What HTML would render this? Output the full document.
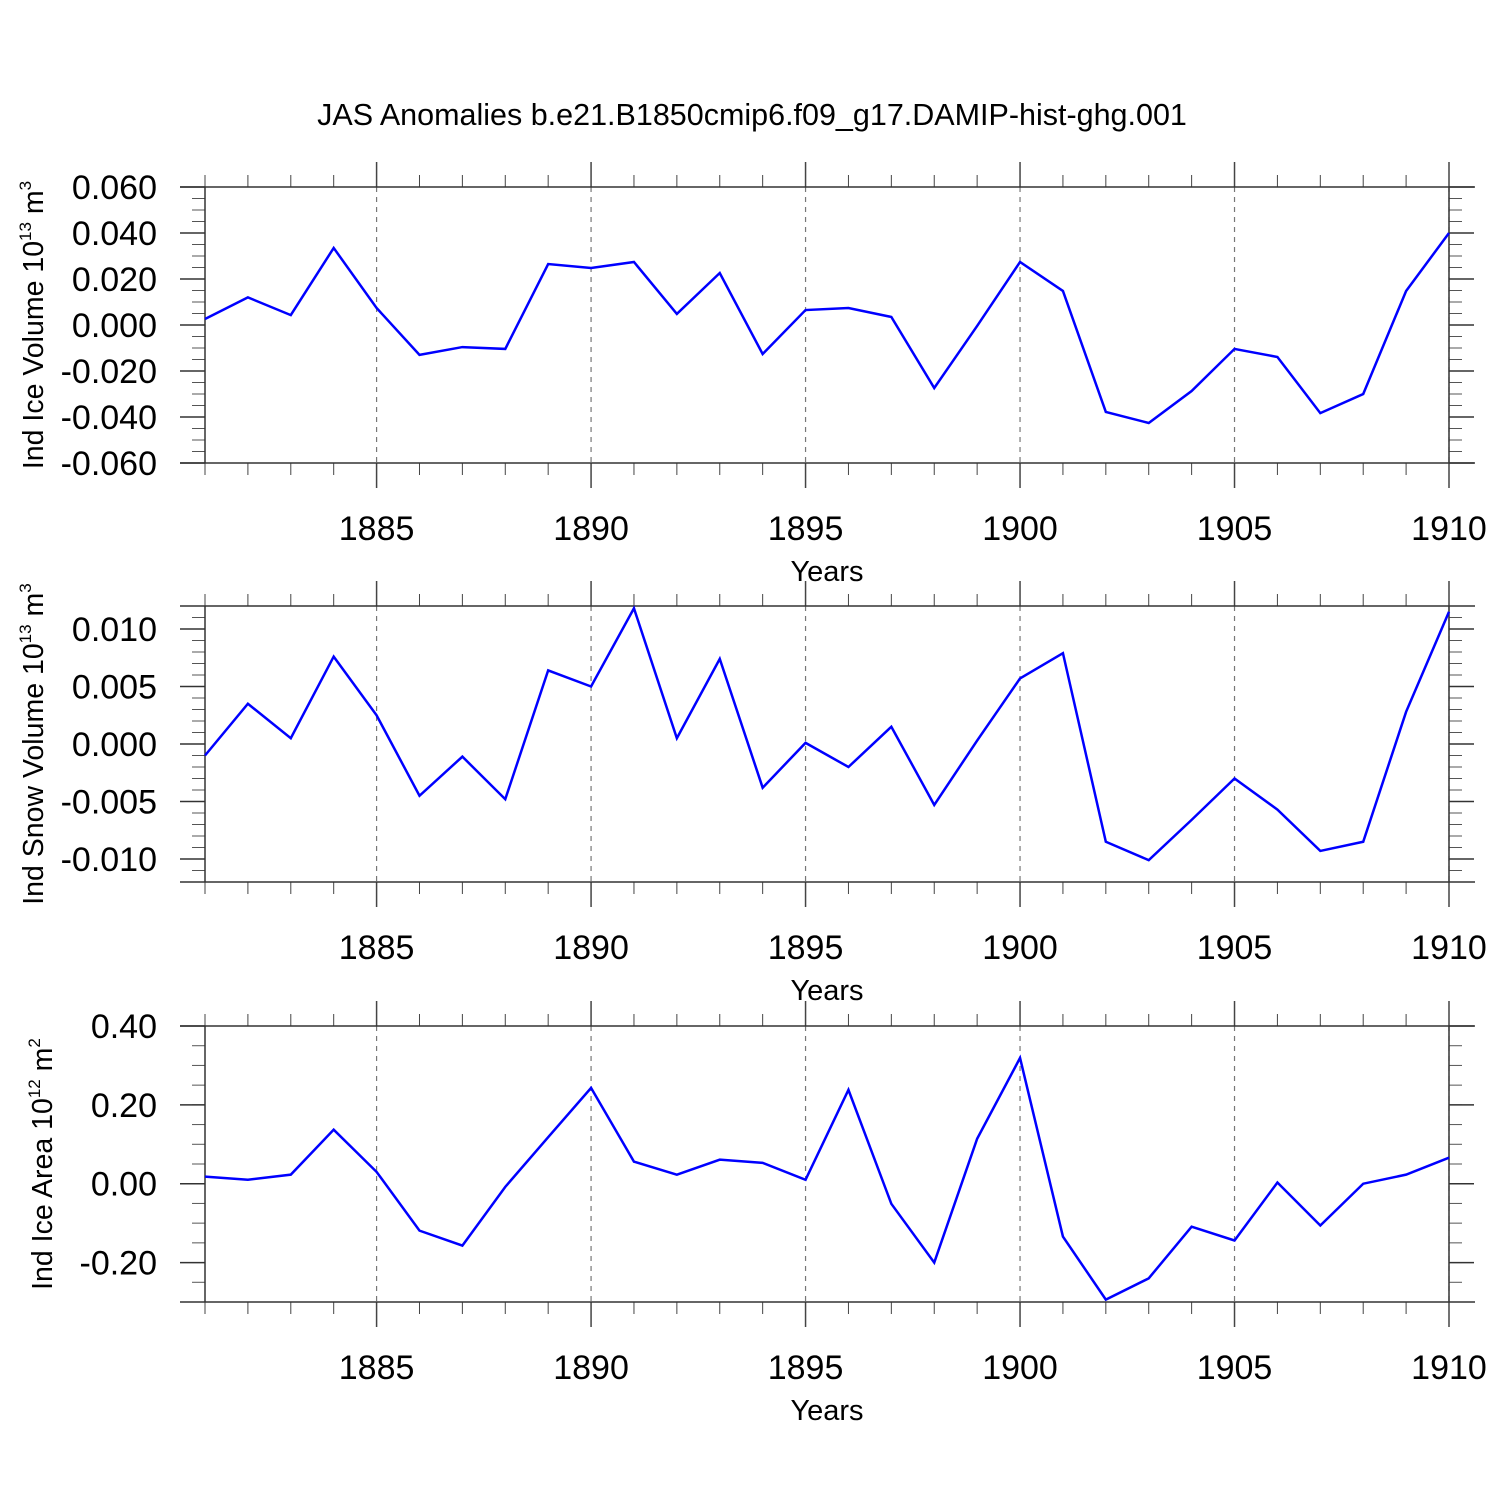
<!DOCTYPE html>
<html><head><meta charset="utf-8"><style>
html,body{margin:0;padding:0;background:#fff;}
svg{display:block;font-family:"Liberation Sans",Arial,sans-serif;}
</style></head><body>
<svg id="chart" width="1500" height="1500" xmlns="http://www.w3.org/2000/svg">
<rect width="1500" height="1500" fill="#fff"/>
<text x="752" y="125" font-size="30.5" text-anchor="middle">JAS Anomalies b.e21.B1850cmip6.f09_g17.DAMIP-hist-ghg.001</text>
</svg>
<script>
const years = [1881,1882,1883,1884,1885,1886,1887,1888,1889,1890,1891,1892,1893,1894,1895,1896,1897,1898,1899,1900,1901,1902,1903,1904,1905,1906,1907,1908,1909,1910];
const iceVolume = [0.0026,0.012,0.0043,0.0335,0.0074,-0.013,-0.0096,-0.0104,0.0265,0.0248,0.0274,0.0048,0.0226,-0.0126,0.0065,0.0074,0.0035,-0.0274,-0.0004,0.0274,0.0148,-0.0378,-0.0426,-0.0287,-0.0104,-0.0139,-0.0383,-0.030,0.0148,0.040];
const snowVolume = [-0.001,0.0035,0.0005,0.0076,0.0025,-0.0045,-0.0011,-0.0048,0.0064,0.005,0.0118,0.0005,0.0074,-0.0038,0.0001,-0.002,0.0015,-0.0053,0.0003,0.0057,0.0079,-0.0085,-0.0101,-0.0066,-0.003,-0.0057,-0.0093,-0.0085,0.0028,0.0115];
const iceArea = [0.018,0.010,0.023,0.137,0.030,-0.119,-0.157,-0.008,0.118,0.243,0.056,0.023,0.061,0.053,0.010,0.238,-0.051,-0.20,0.114,0.319,-0.134,-0.294,-0.240,-0.109,-0.144,0.003,-0.106,0.0,0.023,0.066];
const xTickLabels = [1885,1890,1895,1900,1905,1910];
const iceVolTicks = [-0.06,-0.04,-0.02,0,0.02,0.04,0.06];
const snowTicks = [-0.010,-0.005,0,0.005,0.010];
const areaTicks = [-0.20,0,0.20,0.40];

const NS="http://www.w3.org/2000/svg";
const svg=document.getElementById('chart');
function mk(tag,attrs,parent){const e=document.createElementNS(NS,tag);for(const k in attrs)e.setAttribute(k,attrs[k]);(parent||svg).appendChild(e);return e;}
const X0=205,X1=1449;
function xs(y){return X0+(y-1881)*(X1-X0)/29;}

function panel(key,top,ymin,ymax,data,ticks,dec,minorStep,titleMain,sup,unit,titleX){
  const bot=top+276;
  const g=mk('g',{});
  
  
  const ys=v=>bot-(v-ymin)*(bot-top)/(ymax-ymin);
  xTickLabels.forEach(yr=>{
    const l=mk('line',{x1:xs(yr),x2:xs(yr),y1:top,y2:bot,stroke:'#777','stroke-width':1.2,'stroke-dasharray':'5,5'},g);
    
    
  });
  years.forEach(yr=>{
    const major=yr%5===0;const len=major?25:12;
    mk('line',{x1:xs(yr),x2:xs(yr),y1:top,y2:top-len,stroke:'#444','stroke-width':major?1.5:1},g);
    mk('line',{x1:xs(yr),x2:xs(yr),y1:bot,y2:bot+len,stroke:'#444','stroke-width':major?1.5:1},g);
  });
  const n=Math.round((ymax-ymin)/minorStep);
  for(let i=0;i<=n;i++){const v=ymin+i*minorStep;const y=ys(v);
    mk('line',{x1:X0-13,x2:X0,y1:y,y2:y,stroke:'#555','stroke-width':1},g);
    mk('line',{x1:X1,x2:X1+13,y1:y,y2:y,stroke:'#555','stroke-width':1},g);}
  ticks.forEach(v=>{const y=ys(v);
    mk('line',{x1:X0-25,x2:X0,y1:y,y2:y,stroke:'#333','stroke-width':1.5},g);
    mk('line',{x1:X1,x2:X1+25,y1:y,y2:y,stroke:'#333','stroke-width':1.5},g);
    const t=mk('text',{x:157,y:y+12,'font-size':34,'text-anchor':'end'},g);
    
    
    t.textContent=v.toFixed(dec);
  });
  mk('line',{x1:180,x2:1475,y1:top,y2:top,stroke:'#333','stroke-width':1.5},g);
  mk('line',{x1:180,x2:1475,y1:bot,y2:bot,stroke:'#333','stroke-width':1.5},g);
  mk('line',{x1:X0,x2:X0,y1:top,y2:bot,stroke:'#333','stroke-width':1.5},g);
  mk('line',{x1:X1,x2:X1,y1:top,y2:bot,stroke:'#333','stroke-width':1.5},g);
  xTickLabels.forEach(yr=>{
    const t=mk('text',{x:xs(yr),y:bot+77,'font-size':34,'text-anchor':'middle'},g);
    
    
    t.textContent=yr;
  });
  const xt=mk('text',{x:827,y:bot+118,'font-size':29,'text-anchor':'middle'},g);
  
  
  xt.textContent='Years';
  const cy=(top+bot)/2;
  const yt=mk('text',{x:0,y:0,'font-size':28.5,'text-anchor':'middle',transform:`translate(${titleX},${cy}) rotate(-90)`},g);
  
  
  const a=document.createElementNS(NS,'tspan');a.textContent=titleMain;yt.appendChild(a);
  const b=document.createElementNS(NS,'tspan');b.setAttribute('font-size','17');b.setAttribute('dy','-12');b.textContent=sup;yt.appendChild(b);
  const c=document.createElementNS(NS,'tspan');c.setAttribute('dy','12');c.textContent=' '+unit;yt.appendChild(c);
  const d=document.createElementNS(NS,'tspan');d.setAttribute('font-size','17');d.setAttribute('dy','-12');d.textContent=key==='ice-area'?'2':'3';yt.appendChild(d);
  const pts=data.map((v,i)=>xs(years[i])+','+ys(v)).join(' ');
  const pl=mk('polyline',{points:pts,fill:'none',stroke:'#0000ff','stroke-width':2.5,'stroke-linejoin':'miter'},g);
  
  
}
panel('ice-volume',187,-0.06,0.06,iceVolume,iceVolTicks,3,0.005,'Ind Ice Volume 10','13','m',43);
panel('snow-volume',606,-0.012,0.012,snowVolume,snowTicks,3,0.001,'Ind Snow Volume 10','13','m',43);
panel('ice-area',1026,-0.3,0.4,iceArea,areaTicks,2,0.05,'Ind Ice Area 10','12','m',52);
</script>
</body></html>
